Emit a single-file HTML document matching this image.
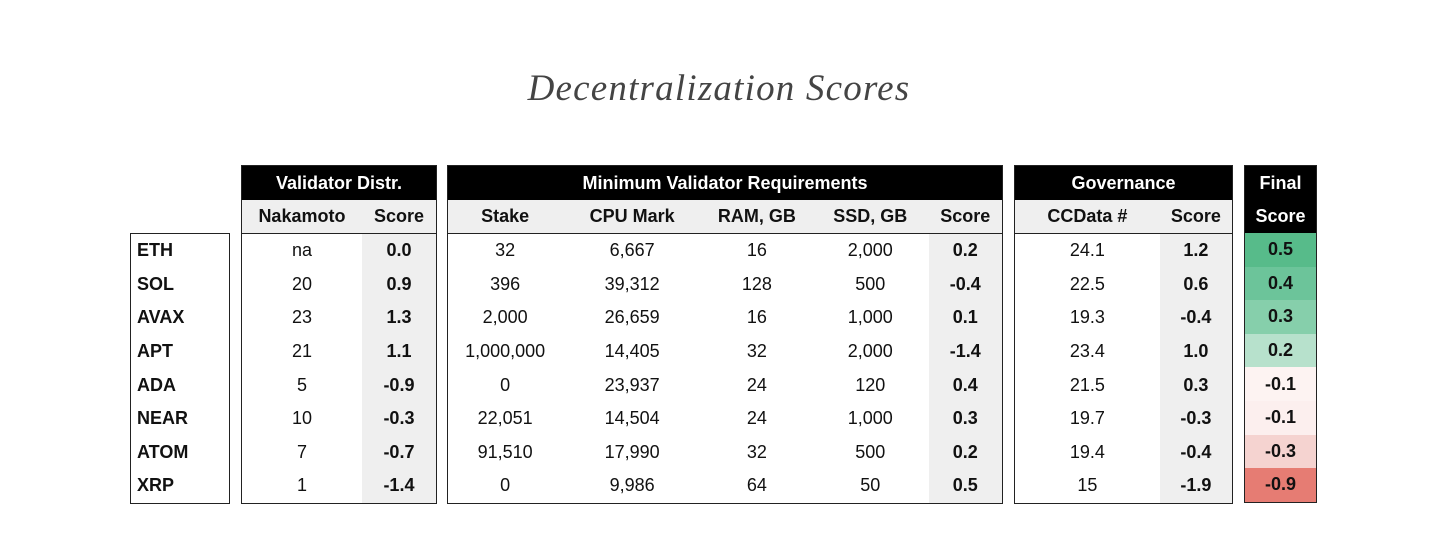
<!DOCTYPE html><html><head><style>
body{margin:0;width:1438px;height:533px;background:#fff;position:relative;font-family:"Liberation Sans",Arial,sans-serif;overflow:hidden}
.t{position:absolute;left:0;width:1438px;top:67px;text-align:center;font-family:"Liberation Serif",serif;font-style:italic;font-size:37px;color:#444;font-weight:normal;letter-spacing:1.2px}
table{position:absolute;border-collapse:collapse;border:1.5px solid #222;font-size:18px;color:#111}
td{height:33.6px;padding:0;text-align:center;white-space:nowrap}
.h td{background:#000;color:#fff;font-weight:bold;height:34px}
.s td{background:#efefef;font-weight:bold;height:33px;border-bottom:1.5px solid #222}
.sc{background:#efefef;font-weight:bold}
</style></head><body>
<div class="t">Decentralization Scores</div>
<table style="left:130px;top:233px;width:100px;height:269px"><tbody>
<tr><td style="text-align:left;padding-left:6px;font-weight:bold">ETH</td></tr>
<tr><td style="text-align:left;padding-left:6px;font-weight:bold">SOL</td></tr>
<tr><td style="text-align:left;padding-left:6px;font-weight:bold">AVAX</td></tr>
<tr><td style="text-align:left;padding-left:6px;font-weight:bold">APT</td></tr>
<tr><td style="text-align:left;padding-left:6px;font-weight:bold">ADA</td></tr>
<tr><td style="text-align:left;padding-left:6px;font-weight:bold">NEAR</td></tr>
<tr><td style="text-align:left;padding-left:6px;font-weight:bold">ATOM</td></tr>
<tr><td style="text-align:left;padding-left:6px;font-weight:bold">XRP</td></tr>
</tbody></table>
<table style="left:241px;top:165px;width:196px"><colgroup><col style="width:121px"><col style="width:75px"></colgroup>
<tr class="h"><td colspan="2">Validator Distr.</td></tr>
<tr class="s"><td>Nakamoto</td><td>Score</td></tr>
<tr><td>na</td><td class="sc">0.0</td></tr>
<tr><td>20</td><td class="sc">0.9</td></tr>
<tr><td>23</td><td class="sc">1.3</td></tr>
<tr><td>21</td><td class="sc">1.1</td></tr>
<tr><td>5</td><td class="sc">-0.9</td></tr>
<tr><td>10</td><td class="sc">-0.3</td></tr>
<tr><td>7</td><td class="sc">-0.7</td></tr>
<tr><td>1</td><td class="sc">-1.4</td></tr>
</table>
<table style="left:447px;top:165px;width:556px"><colgroup><col style="width:115px"><col style="width:140px"><col style="width:110px"><col style="width:117px"><col style="width:74px"></colgroup>
<tr class="h"><td colspan="5">Minimum Validator Requirements</td></tr>
<tr class="s"><td>Stake</td><td>CPU Mark</td><td>RAM, GB</td><td>SSD, GB</td><td>Score</td></tr>
<tr><td>32</td><td>6,667</td><td>16</td><td>2,000</td><td class="sc">0.2</td></tr>
<tr><td>396</td><td>39,312</td><td>128</td><td>500</td><td class="sc">-0.4</td></tr>
<tr><td>2,000</td><td>26,659</td><td>16</td><td>1,000</td><td class="sc">0.1</td></tr>
<tr><td>1,000,000</td><td>14,405</td><td>32</td><td>2,000</td><td class="sc">-1.4</td></tr>
<tr><td>0</td><td>23,937</td><td>24</td><td>120</td><td class="sc">0.4</td></tr>
<tr><td>22,051</td><td>14,504</td><td>24</td><td>1,000</td><td class="sc">0.3</td></tr>
<tr><td>91,510</td><td>17,990</td><td>32</td><td>500</td><td class="sc">0.2</td></tr>
<tr><td>0</td><td>9,986</td><td>64</td><td>50</td><td class="sc">0.5</td></tr>
</table>
<table style="left:1014px;top:165px;width:219px"><colgroup><col style="width:146px"><col style="width:73px"></colgroup>
<tr class="h"><td colspan="2">Governance</td></tr>
<tr class="s"><td>CCData #</td><td>Score</td></tr>
<tr><td>24.1</td><td class="sc">1.2</td></tr>
<tr><td>22.5</td><td class="sc">0.6</td></tr>
<tr><td>19.3</td><td class="sc">-0.4</td></tr>
<tr><td>23.4</td><td class="sc">1.0</td></tr>
<tr><td>21.5</td><td class="sc">0.3</td></tr>
<tr><td>19.7</td><td class="sc">-0.3</td></tr>
<tr><td>19.4</td><td class="sc">-0.4</td></tr>
<tr><td>15</td><td class="sc">-1.9</td></tr>
</table>
<table style="left:1244px;top:165px;width:73px;font-weight:bold">
<tr class="h"><td>Final</td></tr>
<tr class="h"><td style="height:33px">Score</td></tr>
<tr><td style="background:#57bb8a">0.5</td></tr>
<tr><td style="background:#6cc49a">0.4</td></tr>
<tr><td style="background:#86cfab">0.3</td></tr>
<tr><td style="background:#b7e1cc">0.2</td></tr>
<tr><td style="background:#fdf3f2">-0.1</td></tr>
<tr><td style="background:#fcefee">-0.1</td></tr>
<tr><td style="background:#f5d3d0">-0.3</td></tr>
<tr><td style="background:#e67c73">-0.9</td></tr>
</table>
</body></html>
